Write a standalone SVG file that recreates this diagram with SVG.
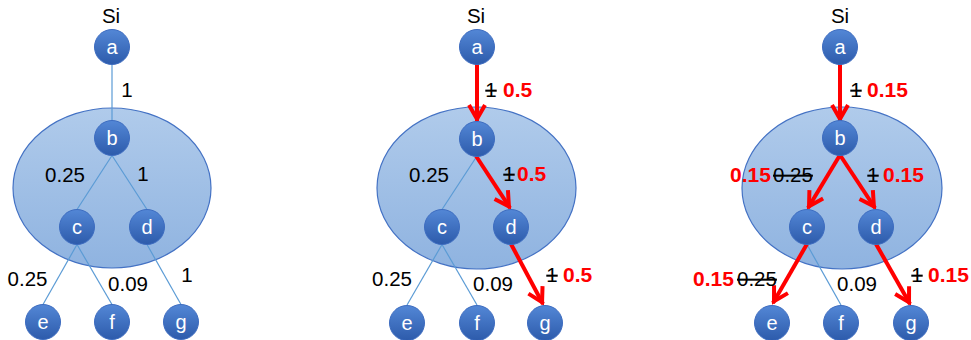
<svg xmlns="http://www.w3.org/2000/svg" width="971" height="340" viewBox="0 0 971 340">
<style>
.lbl{font-family:"Liberation Sans",Arial,sans-serif;font-size:20.5px;fill:#000}
.red{font-family:"Liberation Sans",Arial,sans-serif;font-size:21px;font-weight:bold;fill:#ff0000}
.strike{text-decoration:line-through}
.nt{font-family:"Liberation Sans",Arial,sans-serif;font-size:20px;fill:#fff;text-anchor:middle}
.node{fill:url(#ng);stroke:#3d6cc0;stroke-width:1}
.clu{fill:url(#eg);stroke:#4472c4;stroke-width:1.2}
.thin{stroke:#5b9bd5;stroke-width:1.2;fill:none}
.arr{stroke:#ff0000;stroke-width:4;fill:none;marker-end:url(#ah)}
</style>
<defs>
<linearGradient id="ng" x1="0" y1="0" x2="0" y2="1">
<stop offset="0" stop-color="#5387d6"/>
<stop offset="1" stop-color="#2d5bab"/>
</linearGradient>
<linearGradient id="eg" x1="0" y1="0" x2="0" y2="1">
<stop offset="0" stop-color="#b0cbeb"/>
<stop offset="1" stop-color="#8fb3e0"/>
</linearGradient>
<marker id="ah" markerUnits="userSpaceOnUse" orient="auto" markerWidth="40" markerHeight="40" viewBox="-20 -20 40 40" refX="2" refY="0" overflow="visible">
<path d="M-14,-8 L0,0 L-14,8" fill="none" stroke="#ff0000" stroke-width="4"/>
</marker>
</defs>

<!-- clusters -->
<g id="cluster1"><ellipse class="clu" cx="112" cy="188" rx="99" ry="80"/></g>
<g id="cluster2"><ellipse class="clu" cx="476.5" cy="188" rx="99.5" ry="81"/></g>
<g id="cluster3"><ellipse class="clu" cx="842" cy="188" rx="100" ry="81"/></g>

<!-- connectors -->
<g id="connectors">
<!-- panel 1 -->
<line class="thin" x1="112" y1="64.5" x2="112" y2="120.5"/>
<line class="thin" x1="112" y1="155.5" x2="77" y2="209.5"/>
<line class="thin" x1="112" y1="155.5" x2="147" y2="209.5"/>
<line class="thin" x1="77" y1="244.5" x2="43" y2="304.5"/>
<line class="thin" x1="77" y1="244.5" x2="112" y2="304.5"/>
<line class="thin" x1="147" y1="244.5" x2="181" y2="304.5"/>
<!-- panel 2 -->
<line class="thin" x1="477" y1="156" x2="442" y2="209.5"/>
<line class="thin" x1="442" y1="244.5" x2="407" y2="305"/>
<line class="thin" x1="442" y1="244.5" x2="477" y2="305"/>
<path class="arr" d="M477,64 L477,121"/>
<path class="arr" d="M476,156 L510,208"/>
<path class="arr" d="M511,244 L543,304"/>
<!-- panel 3 -->
<line class="thin" x1="807" y1="244.5" x2="841" y2="305"/>
<path class="arr" d="M840,64 L840,121"/>
<path class="arr" d="M840,155 L808,208"/>
<path class="arr" d="M840,155 L875,208"/>
<path class="arr" d="M807,244 L773,303"/>
<path class="arr" d="M876,244 L910,304"/>
</g>

<!-- panel 1 nodes -->
<g id="p1-a"><circle class="node" cx="112" cy="47" r="17.5"/><text class="nt" x="112" y="54">a</text></g>
<g id="p1-b"><circle class="node" cx="112" cy="138" r="17.5"/><text class="nt" x="112" y="145">b</text></g>
<g id="p1-c"><circle class="node" cx="77" cy="227" r="17.5"/><text class="nt" x="77" y="234">c</text></g>
<g id="p1-d"><circle class="node" cx="147" cy="227" r="17.5"/><text class="nt" x="147" y="234">d</text></g>
<g id="p1-e"><circle class="node" cx="43" cy="322" r="17.5"/><text class="nt" x="43" y="329">e</text></g>
<g id="p1-f"><circle class="node" cx="112" cy="322" r="17.5"/><text class="nt" x="112" y="329">f</text></g>
<g id="p1-g"><circle class="node" cx="181" cy="322" r="17.5"/><text class="nt" x="181" y="329">g</text></g>

<!-- panel 2 nodes -->
<g id="p2-a"><circle class="node" cx="477" cy="47" r="17.5"/><text class="nt" x="477" y="54">a</text></g>
<g id="p2-b"><circle class="node" cx="477" cy="139" r="17.5"/><text class="nt" x="477" y="146">b</text></g>
<g id="p2-c"><circle class="node" cx="442" cy="227" r="17.5"/><text class="nt" x="442" y="234">c</text></g>
<g id="p2-d"><circle class="node" cx="511" cy="227" r="17.5"/><text class="nt" x="511" y="234">d</text></g>
<g id="p2-e"><circle class="node" cx="407" cy="323" r="17.5"/><text class="nt" x="407" y="330">e</text></g>
<g id="p2-f"><circle class="node" cx="477" cy="323" r="17.5"/><text class="nt" x="477" y="330">f</text></g>
<g id="p2-g"><circle class="node" cx="545" cy="323" r="17.5"/><text class="nt" x="545" y="330">g</text></g>

<!-- panel 3 nodes -->
<g id="p3-a"><circle class="node" cx="840" cy="47" r="17.5"/><text class="nt" x="840" y="54">a</text></g>
<g id="p3-b"><circle class="node" cx="840" cy="138" r="17.5"/><text class="nt" x="840" y="145">b</text></g>
<g id="p3-c"><circle class="node" cx="807" cy="227" r="17.5"/><text class="nt" x="807" y="234">c</text></g>
<g id="p3-d"><circle class="node" cx="876" cy="227" r="17.5"/><text class="nt" x="876" y="234">d</text></g>
<g id="p3-e"><circle class="node" cx="772" cy="323" r="17.5"/><text class="nt" x="772" y="330">e</text></g>
<g id="p3-f"><circle class="node" cx="841" cy="323" r="17.5"/><text class="nt" x="841" y="330">f</text></g>
<g id="p3-g"><circle class="node" cx="911" cy="323" r="17.5"/><text class="nt" x="911" y="330">g</text></g>

<!-- labels panel 1 -->
<g id="labels1">
<text class="lbl" x="111" y="23" text-anchor="middle">Si</text>
<text class="lbl" x="127" y="97" text-anchor="middle">1</text>
<text class="lbl" x="65" y="182" text-anchor="middle">0.25</text>
<text class="lbl" x="143" y="181" text-anchor="middle">1</text>
<text class="lbl" x="27.5" y="286" text-anchor="middle">0.25</text>
<text class="lbl" x="128" y="291" text-anchor="middle">0.09</text>
<text class="lbl" x="187" y="282" text-anchor="middle">1</text>
</g>

<!-- labels panel 2 -->
<g id="labels2">
<text class="lbl" x="476" y="23" text-anchor="middle">Si</text>
<text class="lbl strike" x="491" y="97" text-anchor="middle">1</text>
<text class="red" x="503" y="97">0.5</text>
<text class="lbl strike" x="509" y="181" text-anchor="middle">1</text>
<text class="red" x="517" y="181">0.5</text>
<text class="lbl" x="429" y="182" text-anchor="middle">0.25</text>
<text class="lbl" x="392" y="286" text-anchor="middle">0.25</text>
<text class="lbl" x="493" y="291" text-anchor="middle">0.09</text>
<text class="lbl strike" x="552" y="282" text-anchor="middle">1</text>
<text class="red" x="563" y="282">0.5</text>
</g>

<!-- labels panel 3 -->
<g id="labels3">
<text class="lbl" x="840" y="23" text-anchor="middle">Si</text>
<text class="lbl strike" x="856" y="97" text-anchor="middle">1</text>
<text class="red" x="867" y="97">0.15</text>
<text class="red" x="730" y="182">0.15</text>
<text class="lbl strike" x="773" y="182">0.25</text>
<text class="lbl strike" x="873" y="182" text-anchor="middle">1</text>
<text class="red" x="883" y="182">0.15</text>
<text class="red" x="693" y="286">0.15</text>
<text class="lbl strike" x="737" y="286">0.25</text>
<text class="lbl" x="857" y="291" text-anchor="middle">0.09</text>
<text class="lbl strike" x="917" y="282" text-anchor="middle">1</text>
<text class="red" x="928" y="282">0.15</text>
</g>
</svg>
